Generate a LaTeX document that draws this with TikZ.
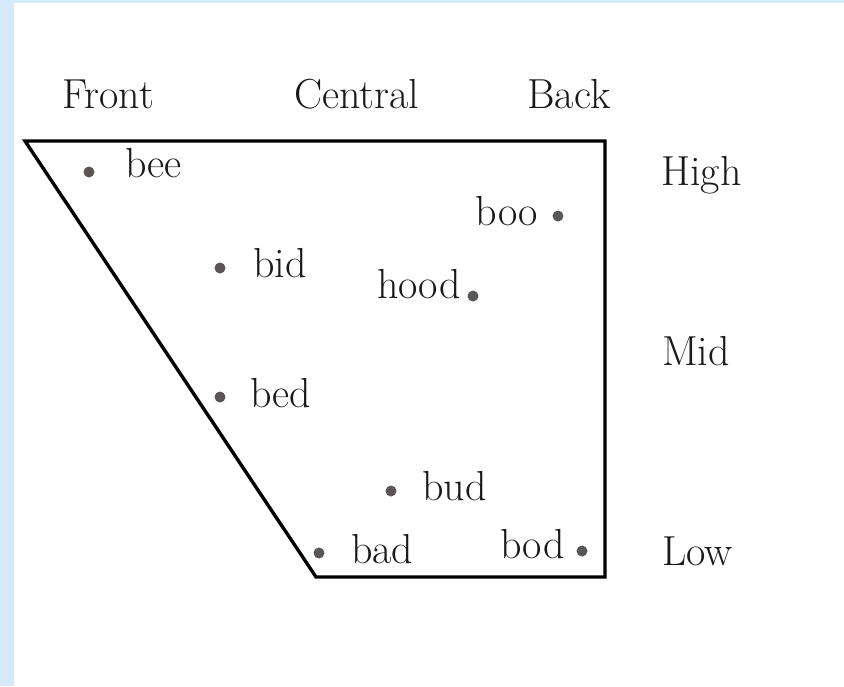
\documentclass[tikz,border=0pt]{standalone}
\definecolor{bgblue}{HTML}{D6EAFB}
\definecolor{dotgray}{HTML}{5A5655}
\definecolor{ink}{HTML}{1A1A1A}
\begin{document}
\begin{tikzpicture}[x=1pt,y=-1pt,
  lbl/.style={inner sep=0pt,text=ink,font=\fontsize{42}{46}\selectfont},
  vdot/.style={circle,fill=dotgray,inner sep=0pt,minimum size=11pt}]
\useasboundingbox (0,0) rectangle (844,686);
\fill[bgblue] (0,0) rectangle (844,686);
\fill[white] (14,3) rectangle (844,686);
% chart outline
\coordinate (tl) at (25,141);
\coordinate (tr) at (605,141);
\coordinate (br) at (605,577);
\coordinate (bl) at (316,577);
\draw[line width=3.4pt,line join=miter] (tl) -- (tr) -- (br) -- (bl) -- cycle;
% headers
\node[lbl,anchor=base] (front) at (108.5,108) {Front};
\node[lbl,anchor=base] (central) at (356.5,108) {Central};
\node[lbl,anchor=base] (back) at (569,108) {Back};
\node[lbl,anchor=base west] (high) at (661,185) {High};
\node[lbl,anchor=base west] (mid) at (662,365) {Mid};
\node[lbl,anchor=base west] (low) at (662,565) {Low};
% vowels
\node[vdot] (dbee) at (89,172) {};
\node[lbl,anchor=base west] (bee) at (125,177) {bee};
\node[vdot] (dboo) at (558,216) {};
\node[lbl,anchor=base east] (boo) at (538,225) {boo};
\node[vdot] (dbid) at (220,268) {};
\node[lbl,anchor=base west] (bid) at (253,277) {bid};
\node[vdot] (dhood) at (473,296) {};
\node[lbl,anchor=base east] (hood) at (461,298) {hood};
\node[vdot] (dbed) at (220,397) {};
\node[lbl,anchor=base west] (bed) at (250,407) {bed};
\node[vdot] (dbud) at (391,491) {};
\node[lbl,anchor=base west] (bud) at (422,500) {bud};
\node[vdot] (dbad) at (319,553) {};
\node[lbl,anchor=base west] (bad) at (351,563) {bad};
\node[vdot] (dbod) at (582,551) {};
\node[lbl,anchor=base east] (bod) at (565,558) {bod};
\end{tikzpicture}
\end{document}
